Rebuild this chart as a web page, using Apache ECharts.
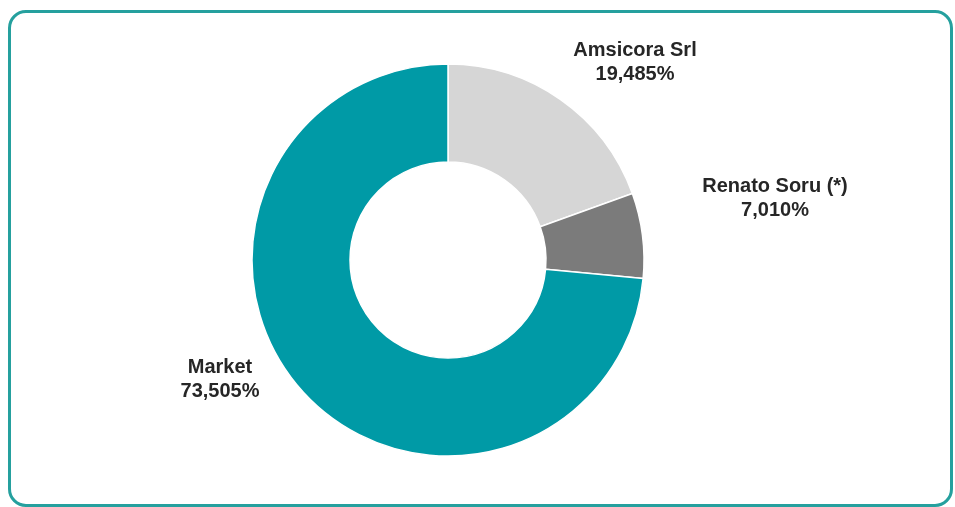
<!DOCTYPE html>
<html>
<head>
<meta charset="utf-8">
<script src="https://cdn.jsdelivr.net/npm/echarts@6/dist/echarts.min.js"></script>
<style>
html,body{margin:0;padding:0;background:#fff;}
#wrap{position:relative;width:955px;height:507px;overflow:hidden;}
#frame{position:absolute;left:8px;top:10px;width:939px;height:491px;border:3px solid #25a09e;border-radius:18px;box-sizing:content-box;}
#chart{position:absolute;left:0;top:0;width:955px;height:507px;}
</style>
</head>
<body>
<div id="wrap"><div id="frame"></div><div id="chart"></div></div>
<script>
const categories = ['Amsicora Srl', 'Renato Soru (*)', 'Market'];
const shares = [19.485, 7.010, 73.505];
const sliceColors = ['#d6d6d6', '#7b7b7b', '#009aa6'];

const labelSpots = [[635, 62], [775, 198], [220, 379]];

const chart = echarts.init(document.getElementById('chart'));
chart.setOption({
  animation: false,
  series: [{
    type: 'pie',
    center: [448, 260],
    radius: [98, 196],
    startAngle: 90,
    clockwise: true,
    itemStyle: { borderColor: '#ffffff', borderWidth: 1.5 },
    label: {
      show: true,
      position: 'outside',
      formatter: p => p.name + '\n' + p.value.toFixed(3).replace('.', ',') + '%',
      fontFamily: 'Liberation Sans, Arial, sans-serif',
      fontWeight: 'bold',
      fontSize: 20,
      lineHeight: 24,
      color: '#262626',
      align: 'center'
    },
    labelLine: { show: false },
    labelLayout: params => ({
      x: labelSpots[params.dataIndex][0],
      y: labelSpots[params.dataIndex][1],
      align: 'center',
      verticalAlign: 'middle'
    }),
    emphasis: { disabled: true },
    data: categories.map((c, i) => ({ name: c, value: shares[i], itemStyle: { color: sliceColors[i] } }))
  }]
});
</script>
</body>
</html>
